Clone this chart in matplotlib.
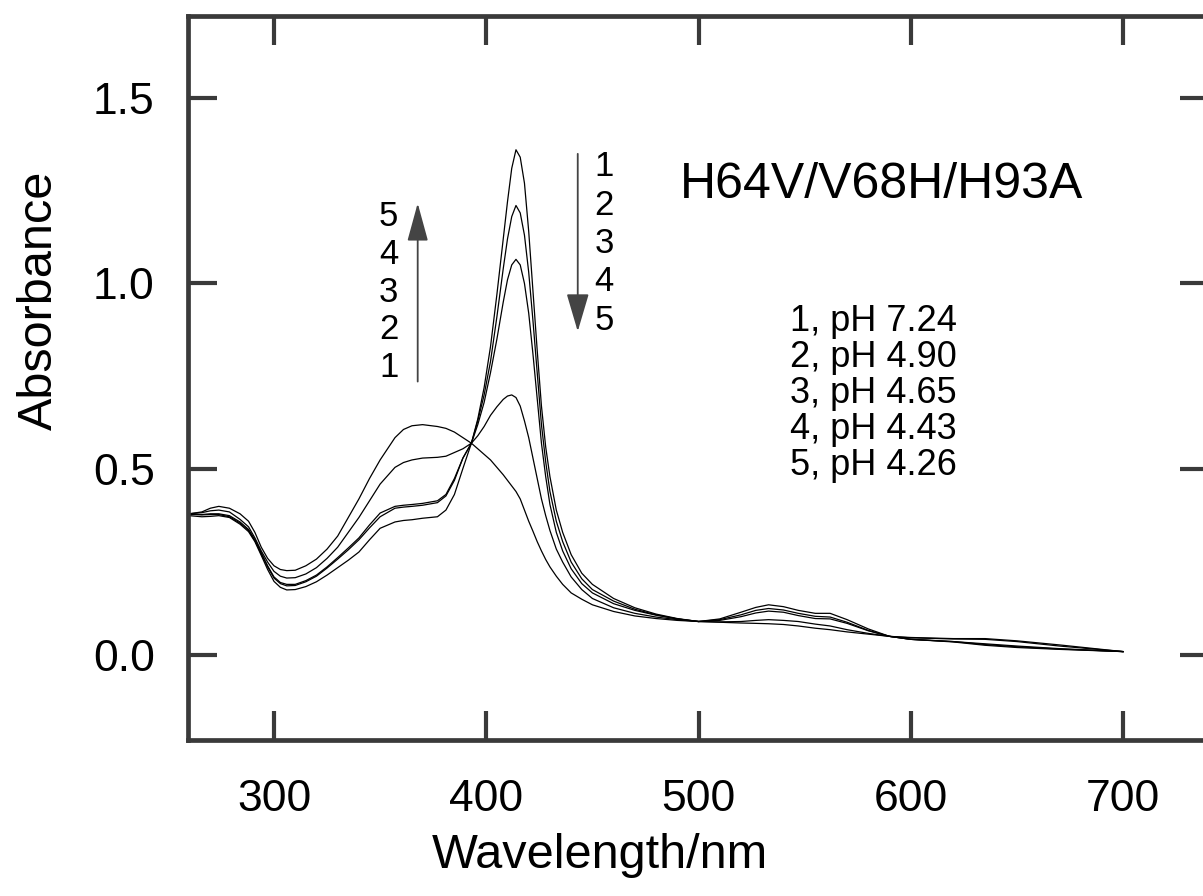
import matplotlib
matplotlib.use("Agg")
import matplotlib.pyplot as plt

plt.rcParams['font.family'] = ['Liberation Sans', 'DejaVu Sans']

wavelength = [260, 266, 270, 274, 279, 284, 288, 291, 294, 297, 300, 303, 306, 310, 315,
              320, 325, 330, 335, 340, 345, 350, 357, 361, 365, 370, 377, 381, 385, 389,
              393, 396, 399, 402, 405, 408, 410, 412, 414, 416, 418, 420, 422, 424, 426,
              428, 430, 433, 436, 440, 445, 450, 460, 470, 480, 490, 500, 510, 520, 527,
              533, 540, 547, 555, 562, 570, 580, 590, 600, 620, 635, 650, 670, 700]

abs_1 = [0.375, 0.372, 0.373, 0.375, 0.370, 0.352, 0.332, 0.305, 0.268, 0.230, 0.198, 0.182, 0.175, 0.176, 0.184,
         0.197, 0.215, 0.235, 0.255, 0.277, 0.310, 0.341, 0.358, 0.362, 0.364, 0.368, 0.372, 0.390, 0.432, 0.502,
         0.570, 0.635, 0.720, 0.830, 0.970, 1.120, 1.220, 1.310, 1.360, 1.340, 1.270, 1.140, 0.980, 0.820, 0.670,
         0.560, 0.480, 0.390, 0.330, 0.270, 0.220, 0.190, 0.152, 0.127, 0.110, 0.098, 0.090, 0.097, 0.115, 0.128,
         0.135, 0.130, 0.120, 0.112, 0.112, 0.095, 0.070, 0.050, 0.042, 0.035, 0.026, 0.020, 0.015, 0.009]

abs_2 = [0.380, 0.377, 0.378, 0.378, 0.372, 0.355, 0.335, 0.308, 0.272, 0.237, 0.207, 0.192, 0.186, 0.187, 0.197,
         0.212, 0.234, 0.258, 0.283, 0.310, 0.342, 0.372, 0.395, 0.398, 0.400, 0.403, 0.410, 0.428, 0.470, 0.530,
         0.570, 0.630, 0.700, 0.790, 0.910, 1.040, 1.120, 1.180, 1.210, 1.190, 1.130, 1.030, 0.900, 0.760, 0.620,
         0.520, 0.440, 0.360, 0.305, 0.250, 0.205, 0.176, 0.145, 0.123, 0.108, 0.097, 0.090, 0.095, 0.108, 0.120,
         0.125, 0.121, 0.112, 0.104, 0.102, 0.088, 0.066, 0.050, 0.042, 0.036, 0.028, 0.022, 0.016, 0.009]

abs_3 = [0.378, 0.378, 0.380, 0.380, 0.375, 0.358, 0.338, 0.310, 0.275, 0.240, 0.210, 0.195, 0.190, 0.190, 0.200,
         0.215, 0.237, 0.262, 0.288, 0.315, 0.350, 0.382, 0.400, 0.403, 0.405, 0.408, 0.415, 0.432, 0.475, 0.530,
         0.570, 0.620, 0.680, 0.760, 0.850, 0.950, 1.010, 1.050, 1.065, 1.050, 1.000, 0.920, 0.810, 0.690, 0.570,
         0.480, 0.405, 0.330, 0.280, 0.232, 0.192, 0.167, 0.138, 0.120, 0.107, 0.097, 0.090, 0.093, 0.103, 0.113,
         0.118, 0.115, 0.106, 0.098, 0.097, 0.085, 0.065, 0.050, 0.042, 0.036, 0.030, 0.024, 0.017, 0.009]

abs_4 = [0.380, 0.383, 0.388, 0.390, 0.385, 0.365, 0.345, 0.315, 0.280, 0.250, 0.225, 0.212, 0.207, 0.208, 0.218,
         0.235, 0.260, 0.290, 0.330, 0.370, 0.415, 0.460, 0.505, 0.518, 0.525, 0.530, 0.532, 0.535, 0.545, 0.555,
         0.570, 0.590, 0.615, 0.645, 0.668, 0.688, 0.697, 0.700, 0.693, 0.670, 0.630, 0.585, 0.530, 0.475, 0.420,
         0.375, 0.335, 0.285, 0.250, 0.210, 0.176, 0.152, 0.127, 0.112, 0.102, 0.095, 0.090, 0.089, 0.090, 0.093,
         0.095, 0.093, 0.090, 0.083, 0.078, 0.068, 0.058, 0.050, 0.046, 0.043, 0.042, 0.036, 0.024, 0.009]

abs_5 = [0.380, 0.385, 0.395, 0.400, 0.395, 0.380, 0.360, 0.330, 0.290, 0.260, 0.240, 0.230, 0.227, 0.228, 0.240,
         0.258, 0.285, 0.320, 0.370, 0.420, 0.475, 0.525, 0.585, 0.607, 0.617, 0.620, 0.615, 0.610, 0.600, 0.585,
         0.570, 0.555, 0.540, 0.525, 0.505, 0.485, 0.470, 0.455, 0.440, 0.420, 0.390, 0.360, 0.333, 0.305, 0.280,
         0.257, 0.237, 0.212, 0.190, 0.167, 0.150, 0.135, 0.117, 0.105, 0.098, 0.093, 0.090, 0.088, 0.086, 0.085,
         0.084, 0.082, 0.078, 0.072, 0.068, 0.062, 0.056, 0.050, 0.047, 0.044, 0.044, 0.038, 0.027, 0.009]

spectra = [abs_1, abs_2, abs_3, abs_4, abs_5]
ph_labels = ["1, pH 7.24", "2, pH 4.90", "3, pH 4.65", "4, pH 4.43", "5, pH 4.26"]
x_ticks = [300, 400, 500, 600, 700]
y_ticks = [0.0, 0.5, 1.0, 1.5]

fig = plt.figure(figsize=(12.03, 8.96), dpi=100)
ax = fig.add_axes([0.1563, 0.1741, 0.8487, 0.808])

for a in spectra:
    ax.plot(wavelength, a, color='black', lw=0.9)

ax.set_xlim(259.5, 740.5)
ax.set_ylim(-0.229, 1.72)
ax.set_xticks(x_ticks)
ax.set_yticks(y_ticks)
ax.set_yticklabels(["%.1f" % v for v in y_ticks])

spine_col = '#3a3a3a'
for s in ax.spines.values():
    s.set_linewidth(3.4)
    s.set_color(spine_col)
ax.tick_params(axis='both', which='major', direction='in', length=21, width=3.0,
               color=spine_col, labelsize=32, top=True, right=True)
ax.tick_params(axis='x', pad=28)
ax.tick_params(axis='y', pad=24)

fig.text(0.033, 0.665, "Absorbance", rotation=90, fontsize=35, ha='center', va='center')
fig.text(0.499, 0.045, "Wavelength/nm", fontsize=35, ha='center', va='center')

ax.text(491.3, 1.266, "H64V/V68H/H93A", fontsize=36, ha='left', va='center')

# up arrow (curves 1 -> 5 at ~370 nm)
ax.annotate("", xy=(367.7, 1.216), xytext=(367.7, 0.736),
            arrowprops=dict(arrowstyle="-|>,head_length=0.95,head_width=0.26", color='#444444',
                            lw=1.3, shrinkA=0, shrinkB=0, mutation_scale=25))
for i, n in enumerate(["5", "4", "3", "2", "1"]):
    ax.text(354.0, (655 - (217 + 37.7 * i)) / 371.3, n, fontsize=25, ha='center', va='center')

# down arrow (curves 1 -> 5 at ~414 nm)
ax.annotate("", xy=(443.1, 0.871), xytext=(443.1, 1.349),
            arrowprops=dict(arrowstyle="-|>,head_length=0.95,head_width=0.28", color='#444444',
                            lw=1.3, shrinkA=0, shrinkB=0, mutation_scale=25))
for i, n in enumerate(["1", "2", "3", "4", "5"]):
    ax.text(455.5, (655 - (167 + 38.3 * i)) / 371.3, n, fontsize=25, ha='center', va='center')

for i, lab in enumerate(ph_labels):
    ax.text(543.0, (655 - (322 + 36 * i)) / 371.3, lab, fontsize=26, ha='left', va='center')

fig.savefig("out.png", dpi=100)
